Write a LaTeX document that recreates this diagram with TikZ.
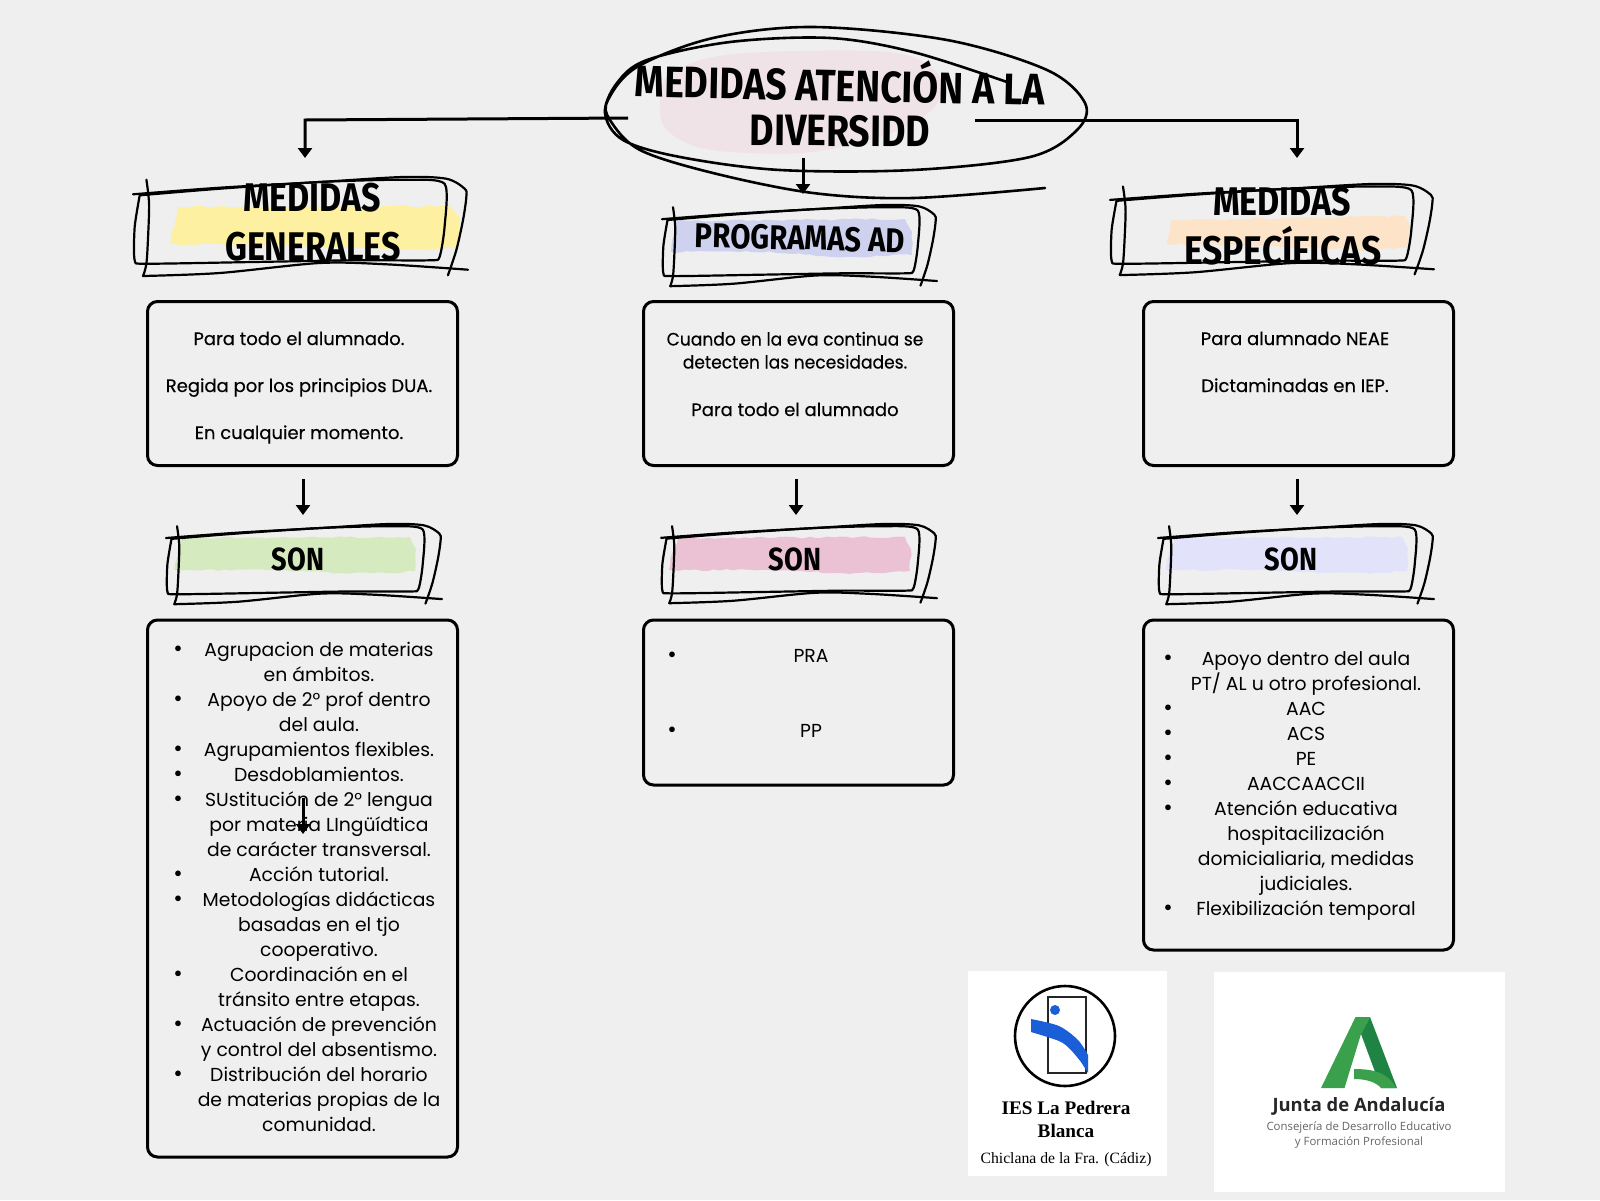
\documentclass[tikz,border=0pt]{standalone}
\usepackage{fontspec}
\setmainfont{Poppins}
\newfontfamily\medf[FakeBold=0.35]{Poppins}
\newfontfamily\handf[FakeStretch=0.85]{Fira Sans}
\newfontfamily\logof{Open Sans}
\newfontfamily\timesf{Liberation Serif}
\usetikzlibrary{arrows.meta,decorations.pathmorphing}
\definecolor{bgc}{HTML}{EFEFEF}
\definecolor{blobc}{HTML}{EFE3E7}
\definecolor{yelc}{HTML}{FDF0A0}
\definecolor{lavc}{HTML}{CFD2EF}
\definecolor{orac}{HTML}{FDE3C8}
\definecolor{grnc}{HTML}{D5EBBF}
\definecolor{pnkc}{HTML}{EBC2D4}
\definecolor{pvlc}{HTML}{E2E3FB}
\definecolor{logob}{HTML}{1A5FD8}
\definecolor{andl}{HTML}{3BA04C}
\definecolor{andd}{HTML}{1F8443}
\tikzset{
  x=0.5pt,y=-0.5pt,
  infobox/.style={draw=black,line width=1.5pt,rounded corners=5pt,fill=none,anchor=north west,inner sep=0pt,outer sep=0pt,minimum width=155pt},
  flow/.style={draw=black,line width=1.5pt,-{Triangle[length=5pt,width=7pt]}},
  hand/.style={font=\handf\bfseries\fontsize{#1pt}{#1pt}\selectfont,inner sep=0pt,text=black,text height=#1*0.689pt,text depth=0pt},
  boxtxt/.style={font=\medf\fontsize{9pt}{11pt}\selectfont,inner sep=0pt,text=black,text height=7pt,text depth=2pt},
  listtxt/.style={font=\fontsize{9.4pt}{12.5pt}\selectfont,inner sep=0pt,text=black,text height=7pt,text depth=2pt},
  bul/.style={font=\fontsize{11.5pt}{11.5pt}\selectfont,inner sep=0pt,text=black},
  sketch/.style={draw=black,line width=1.1pt,line cap=round,line join=round},
  paint/.style={fill=#1,draw=none,decorate,decoration={random steps,segment length=3pt,amplitude=0.5pt}},
  logotxt/.style={inner sep=0pt,text height=6.5pt,text depth=1.8pt},
}
\newcommand\sketchbox[4]{%
  \begin{scope}[shift={(#1,#2)},x={#3*0.5pt},y={-#4*0.5pt}]
    \draw[sketch] plot[smooth,tension=0.5] coordinates {(0,.173)(.259,.107)(.557,.05)(.806,0)(.935,.017)(.99,.117)(.995,.2)(.985,.433)(.965,.733)(.94,.983)};
    \draw[sketch] plot[smooth,tension=0.5] coordinates {(.04,.027)(.048,.267)(.045,.6)(.04,.867)(.03,.99)};
    \draw[sketch] plot[smooth,tension=0.5] coordinates {(.03,.99)(.259,.96)(.557,.86)(.756,.873)(1,.927)};
    \draw[sketch] plot[smooth,tension=0.4] coordinates {(.02,.183)(.005,.5)(.005,.833)(.04,.867)(.359,.85)(.657,.833)(.886,.833)(.915,.8)(.93,.5)(.93,.067)(.806,.027)(.557,.05)(.259,.117)(.02,.183)};
  \end{scope}}
\newcommand\sonpaint[2]{%
  \fill[paint=#2,shift={(#1,0)}] (183,538)--(410,537)--(416,549)--(415,571)--(390,573)--(340,573)--(273,570)--(174,570)--(177,553)--cycle;}
\begin{document}
\begin{tikzpicture}
\useasboundingbox (0,0) rectangle (1600,1200);
\fill[bgc] (0,0) rectangle (1600,1200);

% title
\fill[blobc] plot[smooth cycle,tension=0.6] coordinates {(660,110)(667,77)(713,57)(797,51)(897,53)(937,73)(940,97)(923,117)(880,137)(813,152)(747,153)(697,147)(667,130)};
\draw[sketch,line width=1.3pt] plot[smooth,tension=0.55] coordinates {(1045,188)(913,198)(813,193)(713,173)(640,150)(610,120)(608,100)(637,67)(713,38)(813,27)(947,40)(1047,70)(1085,103)(1077,130)(1030,157)(913,170)(780,170)(680,157)(623,140)(605,113)(617,83)(647,60)(730,42)(830,38)(913,52)(1007,82)};
\node[hand=22,rotate=-1.2] (title1) at (840,86) {MEDIDAS ATENCIÓN A LA};
\node[hand=22,rotate=-0.5] (title2) at (840,131) {DIVERSIDD};

% headers
\fill[paint=yelc] (178,207)--(450,206)--(460,218)--(457,248)--(420,250)--(287,245)--(170,244)--(175,220)--cycle;
\sketchbox{133}{177}{335}{100}
\node[hand=20] (hgen1) at (312,198) {MEDIDAS};
\node[hand=20] (hgen2) at (313,247) {GENERALES};

\fill[paint=lavc] (675,221)--(905,219)--(912,232)--(912,255)--(847,257)--(747,251)--(671,252)--cycle;
\sketchbox{662}{205}{275}{82}
\node[hand=17.2,rotate=-1.5] (hprog) at (800,238) {PROGRAMAS AD};

\fill[paint=orac] (1172,220)--(1405,216)--(1410,228)--(1406,248)--(1370,250)--(1270,246)--(1166,244)--(1170,230)--cycle;
\sketchbox{1110}{184}{324}{92}
\node[hand=20] (hesp1) at (1282,202) {MEDIDAS};
\node[hand=20] (hesp2) at (1283,251) {\scalebox{1.04}[1]{ESPECÍFICAS}};

% upper boxes
\node[infobox,minimum height=82pt] (b1) at (147.5,301.5) {};
\node[infobox,minimum height=82pt] (b2) at (643.5,301.5) {};
\node[infobox,minimum height=82pt] (b3) at (1143.5,301.5) {};

\node[boxtxt] (t11) at (299,340) {Para todo el alumnado.};
\node[boxtxt] (t12) at (299,387) {Regida por los principios DUA.};
\node[boxtxt] (t13) at (299,434) {En cualquier momento.};
\node[boxtxt] (t21) at (795,340.5) {\scalebox{.95}[1]{Cuando en la eva continua se}};
\node[boxtxt] (t22) at (795,363.5) {\scalebox{.95}[1]{detecten las necesidades.}};
\node[boxtxt] (t23) at (795,411) {Para todo el alumnado};
\node[boxtxt] (t31) at (1295,340) {Para alumnado NEAE};
\node[boxtxt] (t32) at (1295,387) {Dictaminadas en IEP.};

% SON headers
\sonpaint{0}{grnc}
\sketchbox{166}{524}{276}{81}
\node[hand=16] (s1) at (298,559) {SON};
\sonpaint{495}{pnkc}
\sketchbox{661}{524}{276}{80}
\node[hand=16] (s2) at (795,559) {SON};
\sonpaint{992}{pvlc}
\sketchbox{1158}{524}{276}{81}
\node[hand=16] (s3) at (1291,559) {SON};

% lower boxes
\node[infobox,minimum height=268.5pt] (l1) at (147.5,620) {};
\node[infobox,minimum height=82.5pt] (l2) at (643.5,620) {};
\node[infobox,minimum height=165pt] (l3) at (1143.5,620) {};

% lists
\foreach \n/\t in {0/Agrupacion de materias,1/en ámbitos.,2/Apoyo de 2° prof dentro,3/del aula.,4/Agrupamientos flexibles.,5/Desdoblamientos.,6/SUstitución de 2° lengua,7/por materia LIngüídtica,8/de carácter transversal.,9/Acción tutorial.,10/Metodologías didácticas,11/basadas en el tjo,12/cooperativo.,13/Coordinación en el,14/tránsito entre etapas.,15/Actuación de prevención,16/y control del absentismo.,17/Distribución del horario,18/de materias propias de la,19/comunidad.}
  \node[listtxt] (la\n) at (319,651+\n*25) {\t};
\foreach \n in {0,2,4,5,6,9,10,13,15,17}
  \node[bul] (lab\n) at (178,651+\n*25) {•};
\node[listtxt] (lb0) at (811,657) {PRA};
\node[listtxt] (lb1) at (811,732) {PP};
\node[bul] (lbb0) at (672,657) {•};
\node[bul] (lbb1) at (672,732) {•};
\foreach \n/\t in {0/Apoyo dentro del aula,1/PT\slash{} AL u otro profesional.,2/AAC,3/ACS,4/PE,5/AACCAACCII,6/Atención educativa,7/hospitacilización,8/{domicialiaria, medidas},9/judiciales.,10/Flexibilización temporal}
  \node[listtxt] (lc\n) at (1306,660+\n*25) {\t};
\foreach \n in {0,2,3,4,5,6,10}
  \node[bul] (lcb\n) at (1168,660+\n*25) {•};

% connectors
\coordinate (tL) at (628,118);
\coordinate (tR) at (975,120);
\coordinate (tC) at (803,158);
\coordinate (gTop) at (305,158);
\coordinate (eTop) at (1297,158);
\coordinate (pTop) at (803,194);
\draw[flow] (tL) -- (305,120) -- (gTop);
\draw[flow] (tR) -- (1297,120) -- (eTop);
\draw[flow] (tC) -- (pTop);
\foreach \a/\xx in {a/303,b/796,c/1297}{
  \coordinate (\a S) at (\xx,479);
  \coordinate (\a E) at (\xx,515);
  \draw[flow] (\a S) -- (\a E);
}
\coordinate (strayS) at (303,798);
\coordinate (strayE) at (303,834);
\draw[flow] (strayS) -- (strayE);

% logo IES
\fill[white] (968,971) rectangle (1167,1176);
\draw[black,line width=1.3pt] (1065,1036) ellipse [x radius=50,y radius=50];
\draw[black!85,line width=0.9pt] (1048,997) rectangle (1086,1073);
\fill[logob] (1055,1010) circle [radius=5];
\fill[logob] plot[smooth,tension=0.5] coordinates {(1031,1019)(1059,1026)(1078,1040)(1088,1055)} -- (1088,1073) -- plot[smooth,tension=0.5] coordinates {(1081,1062)(1070,1049)(1059,1041)(1031,1032)} -- cycle;
\node[inner sep=0pt,font=\timesf\bfseries\fontsize{9.6pt}{10pt}\selectfont,text height=6.5pt,text depth=0pt] (ies1) at (1066,1108) {IES La Pedrera};
\node[inner sep=0pt,font=\timesf\bfseries\fontsize{9.6pt}{10pt}\selectfont,text height=6.5pt,text depth=0pt] (ies2) at (1066,1131) {Blanca};
\node[inner sep=0pt,font=\timesf\fontsize{7.85pt}{8pt}\selectfont,text height=5.4pt,text depth=0pt] (ies3) at (1066,1158) {Chiclana de la Fra. (Cádiz)};

% logo Junta
\fill[white] (1214,972) rectangle (1505,1192);
\fill[andl] (1355.5,1017)--(1370,1017)--(1361,1034)--(1344.5,1088)--(1321,1088)--cycle;
\fill[andd] (1370,1017)--(1397,1088)--(1381,1088)--(1361,1034)--cycle;
\fill[andl] (1354,1069) .. controls (1372,1069) and (1388,1072) .. (1396,1088) -- (1381,1088) .. controls (1376,1082) and (1366,1079) .. (1354,1079) -- cycle;
\node[logotxt,font=\logof\bfseries\fontsize{9.2pt}{9pt}\selectfont,text=black!85] (j1) at (1359,1107) {Junta de Andalucía};
\node[logotxt,font=\logof\fontsize{5.7pt}{6pt}\selectfont,text=black!60,text height=4.3pt,text depth=1.2pt] (j2) at (1359,1127.5) {Consejería de Desarrollo Educativo};
\node[logotxt,font=\logof\fontsize{5.7pt}{6pt}\selectfont,text=black!60,text height=4.3pt,text depth=1.2pt] (j3) at (1359,1142) {y Formación Profesional};
\end{tikzpicture}
\end{document}
